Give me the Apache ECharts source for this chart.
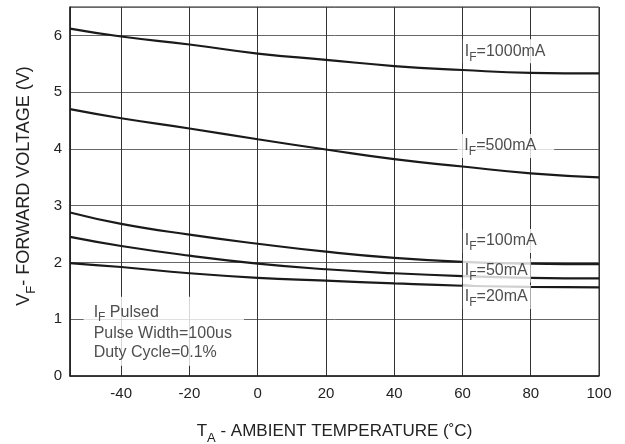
<!DOCTYPE html>
<html>
<head>
<meta charset="utf-8">
<script src="https://cdn.jsdelivr.net/npm/echarts@6/dist/echarts.min.js"></script>
<style>
html, body { margin: 0; padding: 0; background: #fff; }
#main { width: 625px; height: 444px; }
</style>
</head>
<body>
<div id="main"></div>
<script>
// ambient temperature (°C)
const temps = [-55, -40, -20, 0, 20, 40, 60, 80, 100];
// forward voltage (V) per forward current
const v1000 = [6.12, 5.98, 5.84, 5.68, 5.57, 5.46, 5.39, 5.34, 5.33];
const v500 = [4.70, 4.54, 4.36, 4.17, 3.99, 3.82, 3.69, 3.57, 3.50];
const v100 = [2.88, 2.68, 2.49, 2.33, 2.19, 2.08, 2.01, 1.98, 1.97];
const v50 = [2.45, 2.29, 2.12, 1.98, 1.88, 1.81, 1.76, 1.73, 1.72];
const v20 = [1.99, 1.92, 1.81, 1.73, 1.68, 1.63, 1.59, 1.57, 1.56];
const currents = ['1000mA', '500mA', '100mA', '50mA', '20mA'];

// label anchors [temp, volt]
const labelAt = [[60.1, 5.72], [58.5, 4.05], [60.1, 2.38], [60.1, 1.86], [60.1, 1.39]];

const font = 'Liberation Sans, Arial, Helvetica, sans-serif';
const ink = '#222';

const sub = {
    n: { fontSize: 16, fontFamily: font, color: ink, lineHeight: 18 },
    s: { fontSize: 12, fontFamily: font, color: ink, lineHeight: 24, verticalAlign: 'bottom' }
};

let chart = echarts.init(document.getElementById('main'));

const pairs = (ys) => temps.map((t, i) => [t, ys[i]]);
const curves = [v1000, v500, v100, v50, v20];

let series = curves.map((ys, k) => ({
    name: currents[k],
    type: 'line',
    data: pairs(ys),
    smooth: true,
    symbol: 'none',
    lineStyle: { color: '#1a1a1a', width: 2.2 },
    z: 3
}));

series.push({
    type: 'scatter',
    symbolSize: 0,
    silent: true,
    z: 4,
    data: labelAt.map((p, k) => {
        let d = { value: p, name: currents[k] };
        // the 500mA tag sits in a wider gap of the grid line
        if (k === 1) d.label = { padding: [0, 18, 0, 7] };
        return d;
    }),
    label: {
        show: true,
        position: 'right',
        distance: 0,
        backgroundColor: '#fff',
        padding: [0, 3, 0, 2],
        formatter: (p) => '{n|I}{s|F}{n|=' + p.name + '}',
        rich: sub
    },
    labelLayout: { hideOverlap: false }
});

// note box
series.push({
    type: 'scatter',
    symbolSize: 0,
    silent: true,
    z: 4,
    data: [{ value: [-51, 0.79] }],
    label: {
        show: true,
        position: 'right',
        distance: 0,
        backgroundColor: '#fff',
        padding: [4, 12, 4, 10],
        formatter: '{n|I}{s|F}{n| Pulsed}\n{n|Pulse Width=100us}\n{n|Duty Cycle=0.1%}',
        rich: {
            n: { fontSize: 16, fontFamily: font, color: ink, lineHeight: 19 },
            s: { fontSize: 12, fontFamily: font, color: ink, lineHeight: 23, verticalAlign: 'bottom' }
        }
    }
});

const titleRich = {
    n: { fontSize: 17, fontFamily: font, color: ink, lineHeight: 20 },
    s: { fontSize: 13, fontFamily: font, color: ink, lineHeight: 27, verticalAlign: 'bottom' }
};
const yTitleRich = {
    n: { fontSize: 18, fontFamily: font, color: ink, lineHeight: 21 },
    s: { fontSize: 13, fontFamily: font, color: ink, lineHeight: 28, verticalAlign: 'bottom' }
};

let option = {
    animation: false,
    backgroundColor: '#fff',
    grid: {
        left: 70, right: 26, top: 7, bottom: 68,
        outerBoundsMode: 'none',
        show: true, borderColor: '#222', borderWidth: 1
    },
    xAxis: {
        type: 'value',
        min: -55, max: 100,
        splitNumber: 8,
        name: '{n|T}{s|A}{n| - AMBIENT TEMPERATURE (˚C)}',
        nameLocation: 'middle',
        nameGap: 42,
        nameTextStyle: { rich: titleRich },
        axisLine: { lineStyle: { color: '#222', width: 1.5 } },
        axisTick: { show: false },
        axisLabel: { showMinLabel: false, margin: 10, fontSize: 15, fontFamily: font, color: ink },
        splitLine: { show: true, lineStyle: { color: '#333', width: 1 } }
    },
    yAxis: {
        type: 'value',
        min: 0, max: 6.5,
        interval: 1,
        name: '{n|V}{s|F}{n|- FORWARD VOLTAGE (V)}',
        nameLocation: 'middle',
        nameGap: 32,
        nameRotate: 90,
        nameTextStyle: { rich: yTitleRich, padding: [0, 0, 0, 11] },
        axisLine: { show: true, onZero: false, lineStyle: { color: '#222', width: 1.5 } },
        axisTick: { show: false },
        axisLabel: { showMaxLabel: false, margin: 8, fontSize: 15, fontFamily: font, color: ink },
        splitLine: { show: true, lineStyle: { color: '#666', width: 1 } }
    },
    series: series
};

chart.setOption(option);
</script>
</body>
</html>
